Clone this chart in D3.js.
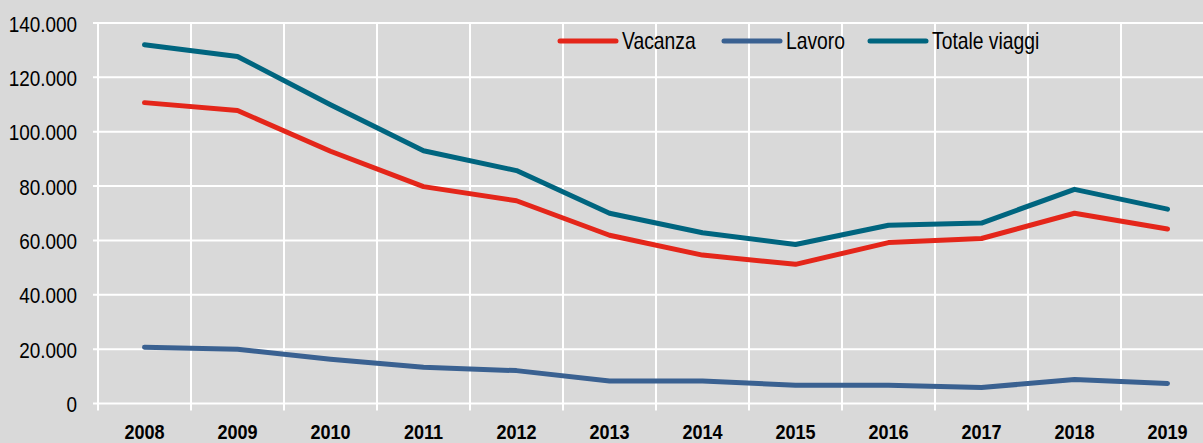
<!DOCTYPE html>
<html>
<head>
<meta charset="utf-8">
<script src="https://cdn.jsdelivr.net/npm/d3@7"></script>
<style>
  html, body { margin: 0; padding: 0; background: #d9d9d9; }
  svg { display: block; }
  text { font-family: "Liberation Sans", Arial, sans-serif; fill: #000; }
</style>
</head>
<body>
<svg id="chart" width="1203" height="443"></svg>
<script>
const years = ["2008","2009","2010","2011","2012","2013","2014","2015","2016","2017","2018","2019"];
const vacanza = [110700, 107800, 92800, 79800, 74600, 61900, 54600, 51200, 59200, 60700, 70000, 64200];
const lavoro  = [20700, 20000, 16300, 13300, 12100, 8300, 8300, 6700, 6700, 5900, 8800, 7400];
const totale  = [132000, 127700, 109900, 93000, 85700, 70000, 62800, 58500, 65600, 66400, 78800, 71500];
const yTicks = [0, 20000, 40000, 60000, 80000, 100000, 120000, 140000];
const seriesNames = ["Vacanza", "Lavoro", "Totale viaggi"];
const seriesColors = ["#e4261a", "#3a6191", "#00657f"];

const svg = d3.select("#chart");
const W = 1203, H = 443;
svg.append("rect").attr("width", W).attr("height", H).attr("fill", "#d9d9d9");

const x = d3.scaleBand().domain(years).range([98, 98 + 93 * 12]).paddingInner(0).paddingOuter(0);
const y = d3.scaleLinear().domain([0, 140000]).range([403.5, 23]);
const cx = d => x(d) + x.bandwidth() / 2;

const fmt = v => v === 0 ? "0" : d3.format(",")(v).replace(/,/g, ".");

// horizontal gridlines (with tick extension to the left)
svg.append("g").selectAll("line").data(yTicks).join("line")
  .attr("x1", 93).attr("x2", W)
  .attr("y1", d => y(d)).attr("y2", d => y(d))
  .attr("stroke", "#fff").attr("stroke-width", 2);

// vertical gridlines at category boundaries (extend below axis)
svg.append("g").selectAll("line").data(years).join("line")
  .attr("x1", d => x(d)).attr("x2", d => x(d))
  .attr("y1", y(140000)).attr("y2", 410.5)
  .attr("stroke", "#fff").attr("stroke-width", 2);

// y labels
svg.append("g").selectAll("text").data(yTicks).join("text")
  .attr("text-anchor", "end")
  .attr("transform", d => `translate(77,${y(d) + 8.5}) scale(0.86,1)`)
  .style("font-size", "22px")
  .text(fmt);

// x labels
svg.append("g").selectAll("text").data(years).join("text")
  .attr("text-anchor", "middle")
  .attr("transform", d => `translate(${cx(d)},438.5) scale(0.86,1)`)
  .style("font-size", "21px").style("font-weight", "bold")
  .text(d => d);

// lines
const line = d3.line().x((d, i) => cx(years[i])).y(d => y(d));
[vacanza, lavoro, totale].forEach((vals, k) => {
  svg.append("path").datum(vals)
    .attr("d", line)
    .attr("fill", "none")
    .attr("stroke", seriesColors[k])
    .attr("stroke-width", 5)
    .attr("stroke-linecap", "round")
    .attr("stroke-linejoin", "round");
});

// legend
const legendX = [560, 724, 870];
const lg = svg.append("g");
seriesNames.forEach((name, k) => {
  lg.append("line")
    .attr("x1", legendX[k]).attr("x2", legendX[k] + 56)
    .attr("y1", 41).attr("y2", 41)
    .attr("stroke", seriesColors[k]).attr("stroke-width", 5)
    .attr("stroke-linecap", "round");
  lg.append("text")
    .attr("transform", `translate(${legendX[k] + 62},48.5) scale(0.84,1)`)
    .style("font-size", "23px")
    .text(name);
});
</script>
</body>
</html>
